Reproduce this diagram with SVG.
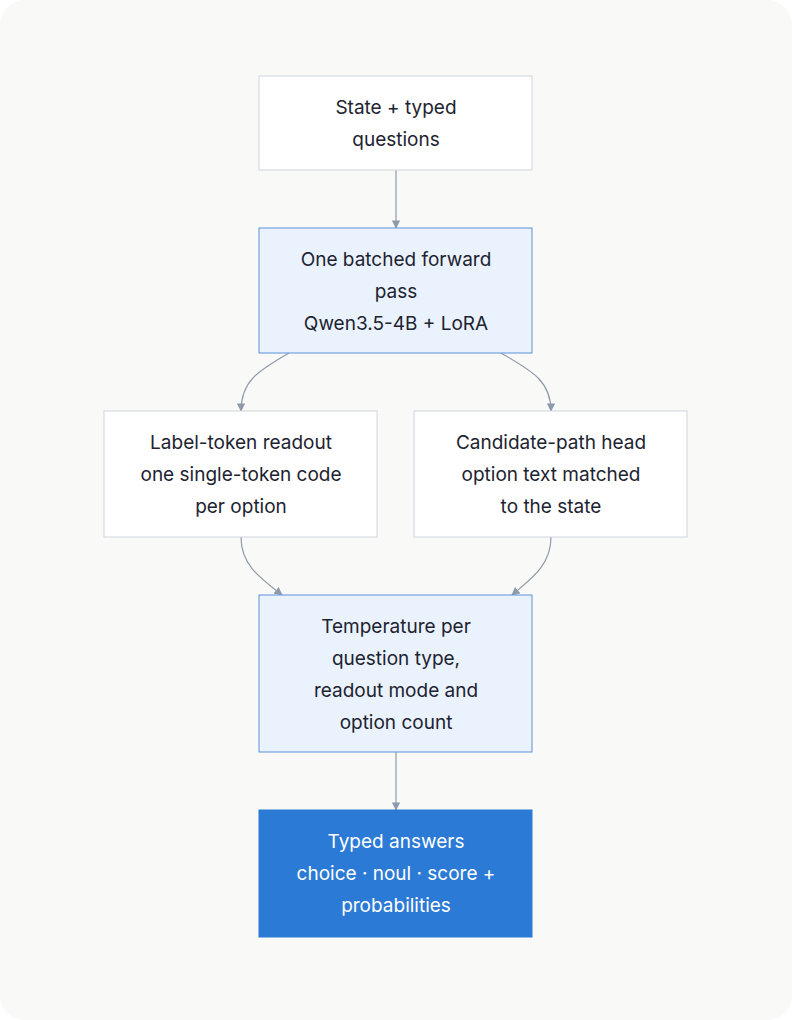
<svg xmlns="http://www.w3.org/2000/svg" width="792" height="1020" viewBox="0 0 792 1020">
<style>
.n{fill:#fff;stroke:#d0d5dc;stroke-width:1}
.b{fill:#eaf2fd;stroke:#5b93dc;stroke-width:1}
.d{fill:#2b7ad6;stroke:#2b7ad6}
text{font-family:Inter,"Noto Sans",sans-serif;font-size:19px;fill:#1d2330;text-anchor:middle}
.w{fill:#fff}
.e{fill:none;stroke:#8e9aaa;stroke-width:1.2;marker-end:url(#a)}
</style>
<defs><marker id="a" viewBox="0 0 10 10" refX="9" refY="5" markerWidth="7" markerHeight="7" orient="auto"><path d="M0,0L10,5L0,10z" fill="#8e9aaa"/></marker></defs>
<rect x="0" y="0" width="792" height="1020" rx="24" fill="#f9f9f7"/>
<g id="edges">
<path class="e" d="M396,170V228"/>
<path class="e" d="M289,353C260,370 241,380 241,411"/>
<path class="e" d="M501,353C530,370 551,380 551,411"/>
<path class="e" d="M241,537C241,565 260,578 282,595"/>
<path class="e" d="M551,537C551,565 532,578 512,595"/>
<path class="e" d="M396,752V810"/>
</g>
<g id="n1"><rect class="n" x="259" y="76" width="273" height="94"/><text x="396" y="114">State + typed</text><text x="396" y="146">questions</text></g>
<g id="n2"><rect class="b" x="259" y="228" width="273" height="125"/><text x="396" y="266">One batched forward</text><text x="396" y="298">pass</text><text x="396" y="330">Qwen3.5-4B + LoRA</text></g>
<g id="n3"><rect class="n" x="104" y="411" width="273" height="126"/><text x="241" y="449">Label-token readout</text><text x="241" y="481">one single-token code</text><text x="241" y="513">per option</text></g>
<g id="n4"><rect class="n" x="414" y="411" width="273" height="126"/><text x="551" y="449">Candidate-path head</text><text x="551" y="481">option text matched</text><text x="551" y="513">to the state</text></g>
<g id="n5"><rect class="b" x="259" y="595" width="273" height="157"/><text x="396" y="633">Temperature per</text><text x="396" y="665">question type,</text><text x="396" y="697">readout mode and</text><text x="396" y="729">option count</text></g>
<g id="n6"><rect class="d" x="259" y="810" width="273" height="127"/><text class="w" x="396" y="848">Typed answers</text><text class="w" x="396" y="880">choice · noul · score +</text><text class="w" x="396" y="912">probabilities</text></g>
</svg>
